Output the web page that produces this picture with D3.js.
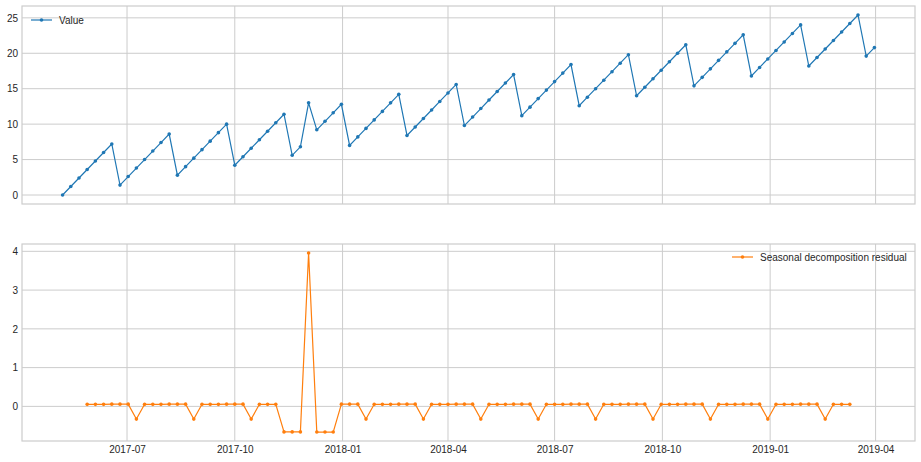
<!DOCTYPE html>
<html><head><meta charset="utf-8">
<script src="https://cdn.jsdelivr.net/npm/d3@7"></script>
<style>
body{margin:0;background:#fff;}
svg text{font-family:"Liberation Sans",Arial,sans-serif;font-size:10px;fill:#262626;}
</style>
</head><body><svg id="c" width="921" height="462"></svg>
<script>
// ---- data ----
const startDate = "2017-05-07";   // first weekly observation (Sunday)
const values = [
  0.0, 1.2, 2.4, 3.6, 4.8, 6.0, 7.2,
  1.4, 2.6, 3.8, 5.0, 6.2, 7.4, 8.6,
  2.8, 4.0, 5.2, 6.4, 7.6, 8.8, 10.0,
  4.2, 5.4, 6.6, 7.8, 9.0, 10.2, 11.4,
  5.6, 6.8, 13.0, 9.2, 10.4, 11.6, 12.8,
  7.0, 8.2, 9.4, 10.6, 11.8, 13.0, 14.2,
  8.4, 9.6, 10.8, 12.0, 13.2, 14.4, 15.6,
  9.8, 11.0, 12.2, 13.4, 14.6, 15.8, 17.0,
  11.2, 12.4, 13.6, 14.8, 16.0, 17.2, 18.4,
  12.6, 13.8, 15.0, 16.2, 17.4, 18.6, 19.8,
  14.0, 15.2, 16.4, 17.6, 18.8, 20.0, 21.2,
  15.4, 16.6, 17.8, 19.0, 20.2, 21.4, 22.6,
  16.8, 18.0, 19.2, 20.4, 21.6, 22.8, 24.0,
  18.2, 19.4, 20.6, 21.8, 23.0, 24.2, 25.4,
  19.6, 20.8
];
const residual = [
  null, null, null, 0.053, 0.053, 0.053, 0.057,
  0.057, 0.057, -0.328, 0.053, 0.053, 0.053, 0.057,
  0.057, 0.057, -0.328, 0.053, 0.053, 0.053, 0.057,
  0.057, 0.057, -0.328, 0.053, 0.053, 0.053, -0.658,
  -0.658, -0.658, 3.958, -0.662, -0.662, -0.662, 0.057,
  0.057, 0.057, -0.328, 0.053, 0.053, 0.053, 0.057,
  0.057, 0.057, -0.328, 0.053, 0.053, 0.053, 0.057,
  0.057, 0.057, -0.328, 0.053, 0.053, 0.053, 0.057,
  0.057, 0.057, -0.328, 0.053, 0.053, 0.053, 0.057,
  0.057, 0.057, -0.328, 0.053, 0.053, 0.053, 0.057,
  0.057, 0.057, -0.328, 0.053, 0.053, 0.053, 0.057,
  0.057, 0.057, -0.328, 0.053, 0.053, 0.053, 0.057,
  0.057, 0.057, -0.328, 0.053, 0.053, 0.053, 0.057,
  0.057, 0.057, -0.328, 0.053, 0.053, 0.053, null,
  null, null
];
const xTickLabels = ["2017-07","2017-10","2018-01","2018-04","2018-07","2018-10","2019-01","2019-04"];
const topYTicks = [0, 5, 10, 15, 20, 25];
const bottomYTicks = [0, 1, 2, 3, 4];
const seriesNames = ["Value", "Seasonal decomposition residual"];
const colors = ["#1f77b4", "#ff7f0e"];

// ---- setup ----
const parse = d3.utcParse("%Y-%m-%d");
const parseMonth = d3.utcParse("%Y-%m");
const t0 = parse(startDate);
const dates = values.map((_, i) => d3.utcWeek.offset(t0, i));
const svg = d3.select("#c");

const left = 22, right = 915;
const panels = [
  {top: 6, bottom: 204, data: values, ticks: topYTicks, name: seriesNames[0], color: colors[0], showX: false, legend: "left"},
  {top: 244, bottom: 441, data: residual, ticks: bottomYTicks, name: seriesNames[1], color: colors[1], showX: true, legend: "right"}
];

const dExt = d3.extent(dates);
const span = dExt[1] - dExt[0];
const x = d3.scaleUtc()
  .domain([new Date(+dExt[0] - span * 0.05), new Date(+dExt[1] + span * 0.05)])
  .range([left, right]);
const xTicks = xTickLabels.map(s => parseMonth(s));

panels.forEach(p => {
  const vals = p.data.filter(v => v != null);
  const [lo, hi] = d3.extent(vals);
  const m = (hi - lo) * 0.05;
  const y = d3.scaleLinear().domain([lo - m, hi + m]).range([p.bottom, p.top]);
  const g = svg.append("g");

  // grid
  g.append("g").selectAll("line").data(p.ticks).join("line")
    .attr("x1", left).attr("x2", right)
    .attr("y1", d => y(d)).attr("y2", d => y(d))
    .attr("stroke", "#cccccc").attr("stroke-width", 1);
  g.append("g").selectAll("line").data(xTicks).join("line")
    .attr("x1", d => x(d)).attr("x2", d => x(d))
    .attr("y1", p.top).attr("y2", p.bottom)
    .attr("stroke", "#cccccc").attr("stroke-width", 1);

  // frame
  g.append("rect").attr("x", left).attr("y", p.top)
    .attr("width", right - left).attr("height", p.bottom - p.top)
    .attr("fill", "none").attr("stroke", "#cccccc").attr("stroke-width", 1.2);

  // y axis labels
  const ya = d3.axisLeft(y).tickValues(p.ticks).tickSize(0).tickPadding(4).tickFormat(d3.format("d"));
  const yg = g.append("g").attr("transform", `translate(${left},0)`).call(ya);
  yg.select(".domain").remove();
  yg.selectAll("text").style("font-family", '"Liberation Sans",Arial,sans-serif').style("font-size", "10px").attr("fill", "#262626");

  if (p.showX) {
    const xa = d3.axisBottom(x).tickValues(xTicks).tickSize(0).tickPadding(5).tickFormat(d3.utcFormat("%Y-%m"));
    const xg = g.append("g").attr("transform", `translate(0,${p.bottom})`).call(xa);
    xg.select(".domain").remove();
    xg.selectAll("text").style("font-family", '"Liberation Sans",Arial,sans-serif').style("font-size", "10px").attr("fill", "#262626");
  }

  // line
  const pts = dates.map((d, i) => ({d, v: p.data[i]})).filter(o => o.v != null);
  const line = d3.line().x(o => x(o.d)).y(o => y(o.v));
  g.append("path").datum(pts).attr("d", line)
    .attr("fill", "none").attr("stroke", p.color).attr("stroke-width", 1.2);
  g.append("g").selectAll("circle").data(pts).join("circle")
    .attr("cx", o => x(o.d)).attr("cy", o => y(o.v)).attr("r", 1.8)
    .attr("fill", p.color);

  // legend
  let lx, ly;
  if (p.legend === "left") { lx = 31; ly = p.top + 14; }
  else { lx = 732; ly = p.top + 13; }
  const lg = g.append("g");
  lg.append("line").attr("x1", lx).attr("x2", lx + 21).attr("y1", ly).attr("y2", ly)
    .attr("stroke", p.color).attr("stroke-width", 1.2);
  lg.append("circle").attr("cx", lx + 10.5).attr("cy", ly).attr("r", 1.8).attr("fill", p.color);
  lg.append("text").attr("x", lx + 28).attr("y", ly).attr("dy", "0.35em").text(p.name);
});
</script>
</body></html>
